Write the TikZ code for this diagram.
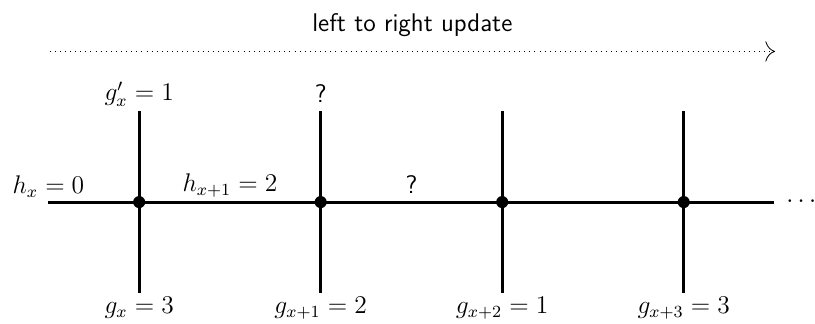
\documentclass[tikz,border=0pt]{standalone}
\usepackage{amsmath}
\usepackage{tikz}
\usetikzlibrary{arrows.meta,positioning,calc}

\begin{document}
\begin{tikzpicture}[
  site/.style={circle, fill=black, inner sep=0pt, minimum size=0.2cm},
  wire/.style={line width=1.4pt, draw=black},
  sweep/.style={dotted, thin, -{To[length=1.6mm]}},
  val/.style={font=\large, inner sep=2pt},
  unk/.style={font=\sffamily\large, inner sep=4pt}
]
\useasboundingbox (0,0) rectangle (13.47,5.34);
% sweep direction
\coordinate (s0) at (0.82,4.49);
\coordinate (s1) at (12.81,4.49);
\draw[sweep] (s0) -- (s1);
\node[above=0.12cm, font=\sffamily\large] (title)
  at ($(s0)!0.5!(s1)$) {left to right update};
% horizontal chain
\coordinate (hl) at (0.8,2);
\coordinate (hr) at (12.8,2);
\node[site] (a1) at (2.3,2) {};
\node[site] (a2) at (5.3,2) {};
\node[site] (a3) at (8.3,2) {};
\node[site] (a4) at (11.3,2) {};
\draw[wire] (hl) -- (hr);
\node[val, right=0.12cm of hr] (dots) {$\cdots$};
% vertical legs
\foreach \i in {1,...,4}{
  \coordinate (t\i) at ($(a\i)+(0,1.5)$);
  \coordinate (b\i) at ($(a\i)+(0,-1.5)$);
  \draw[wire] (t\i) -- (b\i);
}
% labels
\node[val, above] (hx) at (hl) {$h_x = 0$};
\node[val, above] (hx1) at ($(a1)!0.5!(a2)$) {$h_{x+1} = 2$};
\node[unk, above] (hq) at ($(a2)!0.5!(a3)$) {?};
\node[val, above] (gp) at (t1) {$g'_x = 1$};
\node[unk, above] (gq) at (t2) {?};
\node[val, below] (g0) at (b1) {$g_x = 3$};
\node[val, below] (g1) at (b2) {$g_{x+1} = 2$};
\node[val, below] (g2) at (b3) {$g_{x+2} = 1$};
\node[val, below] (g3) at (b4) {$g_{x+3} = 3$};
\end{tikzpicture}
\end{document}
